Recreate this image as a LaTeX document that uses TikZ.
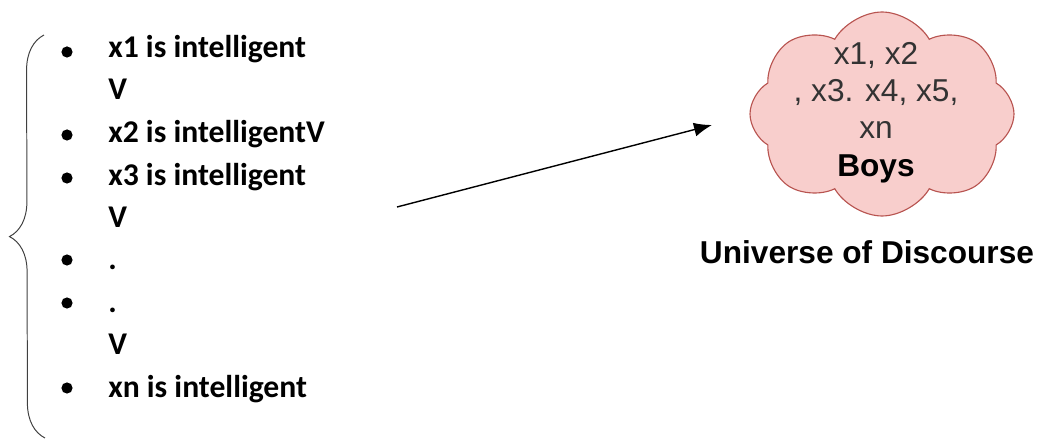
\documentclass[tikz,border=0pt]{standalone}
\usepackage{fontspec}
\setmainfont{Carlito}
\newfontfamily\arialfont{Liberation Sans}
\usetikzlibrary{shapes.symbols,decorations.pathreplacing,arrows.meta}
\definecolor{cloudfill}{HTML}{F8CECC}
\definecolor{cloudline}{HTML}{B85450}
\begin{document}
\begin{tikzpicture}[scale=1,
    item/.style={anchor=base west,inner sep=0pt,font=\fontsize{22.5}{24}\selectfont\bfseries},
    dot/.style={circle,fill=black,inner sep=0pt,minimum size=0.28cm}]
      \useasboundingbox (0,0) rectangle (26,11.025);
      % left brace
      \coordinate (bracelow) at (1.125,0.075);
      \coordinate (bracehigh) at (1.1,10.15);
      \draw [color=black!75,line width=0.7pt,decorate,decoration={brace,amplitude=0.875cm}] (bracelow) -- (bracehigh);
      % the list
      \node[item] (l1) at (2.7,9.575) {x1 is intelligent};
      \node[item] (l2) at (2.7,8.525) {V};
      \node[item] (l3) at (2.7,7.455) {x2 is intelligentV};
      \node[item] (l4) at (2.7,6.395) {x3 is intelligent};
      \node[item] (l5) at (2.7,5.335) {V};
      \node[item] (l6) at (2.7,4.275) {.};
      \node[item] (l7) at (2.7,3.215) {.};
      \node[item] (l8) at (2.7,2.155) {V};
      \node[item] (l9) at (2.7,1.095) {xn is intelligent};
      \node[dot] (b1) at (1.675,9.725) {};
      \node[dot] (b3) at (1.675,7.65) {};
      \node[dot] (b4) at (1.675,6.575) {};
      \node[dot] (b6) at (1.675,4.525) {};
      \node[dot] (b7) at (1.675,3.45) {};
      \node[dot] (b9) at (1.675,1.325) {};
      % the cloud
      \node[cloud,cloud puffs=8,cloud puff arc=120,cloud ignores aspect,draw=cloudline,fill=cloudfill,
            line width=0.8pt,minimum width=6.6cm,minimum height=5.1cm] (boys) at (22.05,8.175) {};
      \node[align=center,font=\arialfont\fontsize{22.5}{26.5}\selectfont,text=black!80] (boystext) at (21.9,8.21)
            {x1, x2\\, x3. x4, x5,\\xn\\\textcolor{black}{\bfseries Boys}};
      \node[font=\arialfont\fontsize{22.5}{26}\selectfont\bfseries] (uod) at (21.675,4.725) {Universe of Discourse};
      % arrow
      \coordinate (arrowfrom) at (9.925,5.85);
      \coordinate (arrowto) at (17.8,7.9);
      \draw [line width=1pt,-{Latex[length=0.45cm,width=0.35cm]}] (arrowfrom) -- (arrowto);
\end{tikzpicture}
\end{document}
